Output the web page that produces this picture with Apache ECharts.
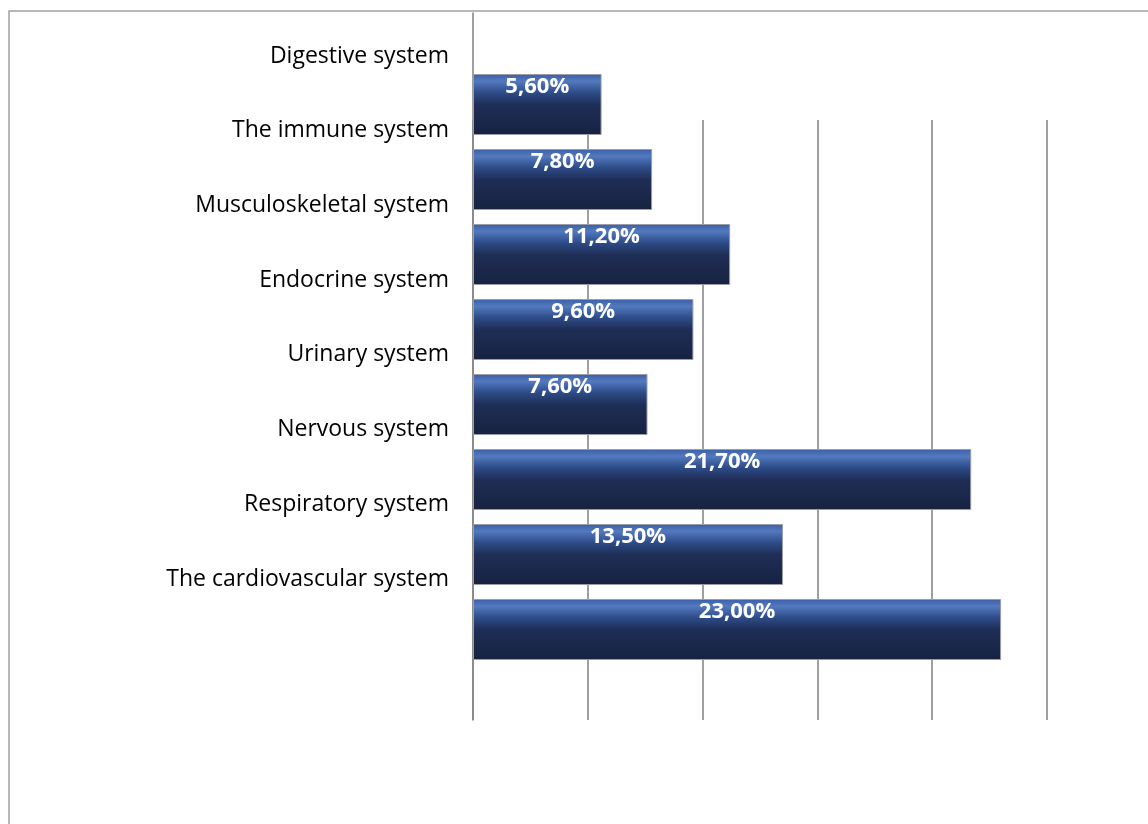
<!DOCTYPE html>
<html>
<head>
<meta charset="utf-8">
<script src="https://cdn.jsdelivr.net/npm/echarts@6/dist/echarts.min.js"></script>
<style>
html,body{margin:0;padding:0;background:#fff;}
#chart{width:1148px;height:824px;}
</style>
</head>
<body>
<div id="chart"></div>
<script>
const categories = ["Digestive system","The immune system","Musculoskeletal system","Endocrine system","Urinary system","Nervous system","Respiratory system","The cardiovascular system"];
const values = [5.6, 7.8, 11.2, 9.6, 7.6, 21.7, 13.5, 23.0];
const xTicks = [0, 5, 10, 15, 20, 25];

const chart = echarts.init(document.getElementById('chart'), null, {renderer:'canvas'});
const FONT = '"Open Sans", Lato, sans-serif';
const gridColor = '#878787';
const L = 473, W = 574;

const hiddenX = i => ({type:'value', gridIndex:i, min:xTicks[0], max:xTicks[xTicks.length-1], interval:5, show:false});

const option = {
  animation:false,
  graphic:[{
    type:'rect', shape:{x:9, y:11, width:1200, height:900},
    style:{fill:'none', stroke:'#a0a0a0', lineWidth:1.5}, z:-10
  }],
  grid:[
    {left:L, width:W, top:13, height:707},
    {left:L, width:W, top:120, height:600},
    {left:L, width:W, top:67, height:600},
    {left:L, width:W, top:18.8, height:597.6}
  ],
  xAxis:[
    hiddenX(0),
    {type:'value', gridIndex:1, min:xTicks[0], max:xTicks[xTicks.length-1], interval:5,
     axisLine:{show:false}, axisTick:{show:false}, axisLabel:{show:false},
     splitLine:{show:true, lineStyle:{color:gridColor, width:1.6}}},
    hiddenX(2),
    hiddenX(3)
  ],
  yAxis:[
    {type:'category', gridIndex:0, data:categories, inverse:true,
     axisLine:{show:true, lineStyle:{color:gridColor, width:1.6}}, axisTick:{show:false}, axisLabel:{show:false}, splitLine:{show:false}},
    {type:'category', gridIndex:1, data:categories, inverse:true, show:false},
    {type:'category', gridIndex:2, data:categories, inverse:true, show:false},
    {type:'category', gridIndex:3, data:categories, inverse:true,
     axisLine:{show:false}, axisTick:{show:false},
     axisLabel:{show:true, margin:24, color:'#000', fontSize:23, fontFamily:FONT}}
  ],
  series:[{
    type:'bar', xAxisIndex:2, yAxisIndex:2, data:values,
    barWidth:61,
    itemStyle:{
      color:new echarts.graphic.LinearGradient(0,0,0,1,[
        {offset:0, color:'#3a5fa6'},
        {offset:0.12, color:'#5379bf'},
        {offset:0.3, color:'#2e4d8a'},
        {offset:0.5, color:'#1f2e57'},
        {offset:1, color:'#172240'}
      ]),
      borderColor:'#9a9cab', borderWidth:1
    },
    label:{
      show:true, position:'insideTop', distance:2,
      color:'#fff', fontWeight:'bold', fontSize:22, fontFamily:FONT,
      formatter:p => p.value.toFixed(2).replace('.', ',') + '%'
    }
  }]
};
chart.setOption(option);
</script>
</body>
</html>
